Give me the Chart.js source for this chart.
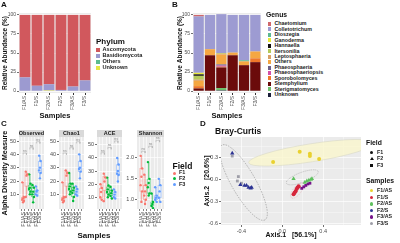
<!doctype html>
<html lang="en">
<head>
<meta charset="utf-8">
<title>Fungal composition and diversity</title>
<script src="https://cdn.jsdelivr.net/npm/chart.js"></script>
<style>
  html, body { margin: 0; padding: 0; background: #fff; }
  body { width: 400px; height: 243px; position: relative; overflow: hidden;
         font-family: 'Liberation Sans', Arial, sans-serif; color: #111; }
  canvas { position: absolute; }
  .lbl { position: absolute; white-space: nowrap; line-height: 1; font-weight: bold; }
  .sw { position: absolute; }
</style>
</head>
<body>
<canvas id="chartA" width="95" height="122" style="left:0;top:0"></canvas>
<canvas id="chartB" width="95" height="122" style="left:170px;top:0"></canvas>
<canvas id="chartObs" width="48" height="123" style="left:0;top:120px"></canvas>
<canvas id="chartChao" width="40" height="123" style="left:48px;top:120px"></canvas>
<canvas id="chartAce" width="38" height="123" style="left:88px;top:120px"></canvas>
<canvas id="chartShan" width="42" height="123" style="left:126px;top:120px"></canvas>
<canvas id="chartD" width="165" height="123" style="left:200px;top:120px"></canvas>
<script>
// ---- data ----
const sampleNames = ['F1/AS', 'F1/S', 'F2/AS', 'F2/S', 'F3/AS', 'F3/S'];
const abundanceTicks = [0, 25, 50, 75, 100];

// A: phylum relative abundance (%)
const phylumNames = ['Ascomycota', 'Basidiomycota', 'Others', 'Unknown'];
const phylumColors = ['#D1585D', '#9C9AD0', '#5DBB8F', '#E6E645'];
const ascomycota    = [82, 93, 91, 98.5, 94, 86];
const basidiomycota = [18, 7, 8, 1.5, 6, 14];
const phylumOthers  = [0, 0, 0, 0, 0, 0];
const phylumUnknown = [0, 0, 1, 0, 0, 0];

// B: genus relative abundance (%)
const genusNames = ['Chaetomium', 'Colletotrichum', 'Dioszegia', 'Ganoderma', 'Hannaella', 'Itersonilia',
  'Leptosphaeria', 'Others', 'Phaeosphaeria', 'Phaeosphaeriopsis', 'Sporobolomyces', 'Stemphylium',
  'Sterigmatomyces', 'Unknown'];
const genusColors = ['#D0686B', '#9D9BD2', '#5CB993', '#E8E83A', '#141010', '#B5C95A', '#D9A066',
  '#F5A742', '#6E6088', '#D44FA8', '#F0782A', '#6B0B0B', '#6EBF6B', '#1B1F3A'];
const chaetomium        = [2, 0, 0, 0, 0, 0];
const colletotrichum    = [74, 45, 51, 49.5, 59.5, 48];
const dioszegia         = [0, 0, 0, 0, 1.5, 0];
const ganoderma         = [2, 0, 0, 0, 0, 0];
const hannaella         = [2, 0, 0, 0, 0, 0];
const itersonilia       = [5, 0, 1, 0, 0, 0];
const leptosphaeria     = [1.5, 0, 1, 0, 0, 0];
const genusOthers       = [7, 8, 13, 3, 5, 9];
const phaeosphaeria     = [0, 0, 1.5, 0, 0, 0];
const phaeosphaeriopsis = [0, 0, 1.5, 0, 0, 0];
const sporobolomyces    = [3, 0, 1, 0.5, 0, 5];
const stemphylium       = [3.5, 47, 27, 47, 34, 38];
const sterigmatomyces   = [0, 0, 3, 0, 0, 0];
const genusUnknown      = [0, 0, 1, 0, 0, 0];

// C: alpha diversity, one list of values per sample
const fieldNames = ['F1', 'F2', 'F3'];
const fieldColors = ['#F8766D', '#00BA38', '#619CFF'];
const sampleField = [0, 0, 1, 1, 2, 2];
const pointJitter = [-0.22, 0.22, 0, -0.22, 0.22, 0, 0.12];
const diversityTicks = [10, 20, 30, 40, 50];
const shannonTicks = [1.0, 1.5, 2.0];
const observed = [[19, 8, 7, 6, 5, 4], [27, 25, 24, 8], [25, 18, 15, 14, 12, 10],
  [17, 15, 12, 10, 8, 4], [16, 13, 12, 10, 9], [39, 35, 30, 28, 26, 22]];
const chao1 = [[19, 8, 7, 6, 5, 4], [28, 26, 24, 8], [26, 18, 16, 14, 12, 10],
  [18, 15, 13, 11, 8, 5], [16, 14, 12, 10, 9], [40, 35, 30, 29, 27, 22]];
const ace = [[20, 17, 14, 10, 8], [28, 25, 22, 7], [25, 19, 16, 14, 12, 10],
  [18, 15, 13, 11, 9], [16, 14, 12, 10, 9], [40, 35, 30, 28, 27, 22]];
const shannon = [[2.05, 1.75, 1.55, 1.35, 1.2, 0.95], [1.6, 1.35, 1.2, 1.1, 1.0, 0.9],
  [1.9, 1.5, 1.4, 1.3, 1.15, 1.1], [1.15, 0.95, 0.9, 0.85, 0.8], [1.3, 1.1, 1.05, 1.0, 0.95],
  [1.5, 1.35, 1.2, 1.05, 0.95]];
// boxes: [low whisker, q1, median, q3, high whisker]
const observedBox = [[4, 5, 6.5, 8, 19], [8, 16, 24.5, 26, 27], [10, 12.5, 14.5, 17, 25],
  [4, 8, 11, 15, 17], [9, 9.5, 12, 13, 16], [22, 26, 29, 35, 39]];
const chao1Box = [[4, 5, 6.5, 8, 19], [8, 16, 25, 27, 28], [10, 12.5, 15, 18, 26],
  [5, 8, 12, 15, 18], [9, 10, 12, 14, 16], [22, 27, 29.5, 35, 40]];
const aceBox = [[8, 9, 14, 17, 20], [7, 15, 23.5, 26, 28], [10, 12.5, 15, 18, 25],
  [9, 11, 13, 15, 18], [9, 10, 12, 14, 16], [22, 27, 29, 35, 40]];
const shannonBox = [[0.95, 1.2, 1.45, 1.75, 2.05], [0.9, 1.0, 1.15, 1.35, 1.6], [1.1, 1.15, 1.35, 1.5, 1.9],
  [0.8, 0.85, 0.9, 0.95, 1.15], [0.95, 1.0, 1.05, 1.1, 1.3], [0.95, 1.05, 1.2, 1.35, 1.5]];
// significance bracket heights (F1, F2, F3 pairs)
const observedBrackets = [41, 45, 49.5];
const chao1Brackets = [41, 45, 49.5];
const aceBrackets = [44, 48, 53];
const shannonBrackets = [2.16, 2.28, 2.42];

// D: PCoA Bray-Curtis, [Axis.1, Axis.2]
const pcoaF1AS = [[-0.09, 0.24], [0.17, 0.38], [0.27, 0.35], [0.27, 0.32], [0.36, 0.28]];
const pcoaF1S  = [[0.11, -0.2], [0.12, -0.18], [0.13, -0.16], [0.14, -0.13], [0.15, -0.11], [0.16, -0.09]];
const pcoaF2AS = [[0.11, 0.01], [0.22, -0.04], [0.24, -0.02], [0.26, -0.01], [0.28, 0.0], [0.29, 0.01]];
const pcoaF2S  = [[-0.49, 0.36], [-0.41, -0.07], [-0.37, -0.08], [-0.35, -0.08], [-0.33, -0.11], [-0.31, -0.12], [-0.30, -0.11]];
const pcoaF3AS = [[0.19, -0.12], [0.21, -0.1], [0.23, -0.08], [0.25, -0.06], [0.27, -0.05]];
const pcoaF3S  = [[-0.49, 0.32], [-0.43, 0.04], [-0.44, -0.02], [-0.40, -0.05]];
const pcoaColors = ['#E9D12F', '#D6263B', '#5FC15F', '#2C3393', '#76148A', '#9E9EA8'];
const pcoaShapes = ['circle', 'circle', 'triangle', 'triangle', 'rect', 'rect'];
const axis1Ticks = [-0.4, 0.0, 0.4];
const axis1Minor = [-0.2, 0.2, 0.6];
const axis2Ticks = [-0.6, -0.3, 0.0, 0.3];
const axis2Minor = [-0.45, -0.15, 0.15, 0.45];
// ellipse major-axis ends [x, y] in axis units
const ellipseF2S3S = [[-0.59, 0.47], [-0.17, -0.55]];
const ellipseF1AS  = [[-0.33, 0.23], [0.9, 0.5]];
const ellipseF2AS  = [[0.04, -0.05], [0.35, 0.11]];
const ellipseF1S   = [[0.09, -0.25], [0.2, -0.05]];

// ---- setup ----
Chart.defaults.font.family = "'Liberation Sans', Arial, sans-serif";
Chart.defaults.color = '#4d4d4d';
Chart.defaults.animation = false;
Chart.defaults.responsive = false;
Chart.defaults.plugins.legend.display = false;
Chart.defaults.plugins.tooltip.enabled = false;

function withAlpha(hex, a) {
  const n = parseInt(hex.slice(1), 16);
  return `rgba(${n >> 16},${(n >> 8) & 255},${n & 255},${a})`;
}

const panelBg = {
  id: 'panelBg',
  beforeDraw(chart) {
    const a = chart.chartArea, ctx = chart.ctx;
    ctx.save();
    ctx.fillStyle = '#ebebeb';
    ctx.fillRect(a.left, a.top, a.right - a.left, a.bottom - a.top);
    ctx.restore();
  }
};

const facetStrip = {
  id: 'facetStrip',
  afterDraw(chart, args, opts) {
    if (!opts.text) return;
    const a = chart.chartArea, ctx = chart.ctx;
    ctx.save();
    ctx.fillStyle = '#d9d9d9';
    ctx.fillRect(a.left, a.top - 7, a.right - a.left, 7);
    ctx.fillStyle = '#1a1a1a';
    ctx.font = "bold 5.5px 'Liberation Sans', Arial, sans-serif";
    ctx.textAlign = 'center';
    ctx.textBaseline = 'middle';
    ctx.fillText(opts.text, (a.left + a.right) / 2, a.top - 3.3);
    ctx.restore();
  }
};

// "ns" over each bracket
const bracketText = {
  id: 'bracketText',
  afterDatasetsDraw(chart, args, opts) {
    if (!opts.heights) return;
    const ctx = chart.ctx, x = chart.scales.x, y = chart.scales.y;
    ctx.save();
    ctx.fillStyle = '#8c8c8c';
    ctx.font = "3.5px 'Liberation Sans', Arial, sans-serif";
    ctx.textAlign = 'center';
    ctx.textBaseline = 'bottom';
    opts.heights.forEach((h, j) => {
      ctx.fillText('ns', x.getPixelForValue(2 * j + 0.5), y.getPixelForValue(h) - 0.3);
    });
    ctx.restore();
  }
};

// group ellipses for panel D (kept out of plugin options so Chart.js does not resolve them)
const pcoaEllipses = [
  { ends: ellipseF1AS, half: 9, fill: 'rgba(250,246,205,0.8)', stroke: '#d9d9c6', dash: [] },
  { ends: ellipseF2S3S, half: 12, fill: null, stroke: '#8a8a8a', dash: [1.5, 1.2] },
  { ends: ellipseF2AS, half: 5, fill: null, stroke: '#9a9a9a', dash: [1, 1] },
  { ends: ellipseF1S, half: 4, fill: null, stroke: 'rgba(214,38,59,0.35)', dash: [1, 1] }
];
const ellipses = {
  id: 'ellipses',
  beforeDatasetsDraw(chart) {
    const ctx = chart.ctx, a = chart.chartArea, sx = chart.scales.x, sy = chart.scales.y;
    ctx.save();
    ctx.beginPath();
    ctx.rect(a.left, a.top, a.right - a.left, a.bottom - a.top);
    ctx.clip();
    pcoaEllipses.forEach(e => {
      const x1 = sx.getPixelForValue(e.ends[0][0]), y1 = sy.getPixelForValue(e.ends[0][1]);
      const x2 = sx.getPixelForValue(e.ends[1][0]), y2 = sy.getPixelForValue(e.ends[1][1]);
      ctx.beginPath();
      ctx.ellipse((x1 + x2) / 2, (y1 + y2) / 2, Math.hypot(x2 - x1, y2 - y1) / 2, e.half,
        Math.atan2(y2 - y1, x2 - x1), 0, Math.PI * 2);
      if (e.fill) { ctx.fillStyle = e.fill; ctx.fill(); }
      ctx.setLineDash(e.dash);
      ctx.lineWidth = 0.6;
      ctx.strokeStyle = e.stroke;
      ctx.stroke();
    });
    ctx.restore();
  }
};

function yScale(o) {
  return {
    min: o.min, max: o.max, stacked: !!o.stacked,
    border: { display: false },
    grid: { color: '#ffffff', lineWidth: 0.7, tickLength: 2, tickColor: '#333333' },
    ticks: { padding: 1, font: { size: o.font || 5 }, color: '#4d4d4d', callback: o.fmt || (v => v) },
    afterBuildTicks: s => { s.ticks = o.ticks.map(v => ({ value: v })); },
    afterFit: s => { s.width = o.width; },
    title: o.title ? { display: true, text: o.title, color: '#111',
      font: { size: o.titleSize || 6.5, weight: 'bold' }, padding: { top: o.titlePad || 1, bottom: 0 } }
      : { display: false }
  };
}

function sampleAxis() {
  return {
    stacked: true,
    border: { display: false },
    grid: { drawOnChartArea: false, offset: false, tickLength: 2, tickColor: '#333333' },
    ticks: { font: { size: 5 }, color: '#4d4d4d', minRotation: 90, maxRotation: 90, autoSkip: false, padding: 1 },
    afterFit: s => { s.height = 29; },
    title: { display: true, text: 'Samples', color: '#111', font: { size: 7.5, weight: 'bold' }, padding: { top: 0, bottom: 2 } }
  };
}

function stackedBars(id, names, colors, series, yTitlePad, yWidth) {
  const datasets = names.map((n, i) => ({
    label: n, data: series[i], backgroundColor: colors[i], borderWidth: 0,
    barPercentage: 0.9, categoryPercentage: 1
  })).reverse();
  new Chart(document.getElementById(id), {
    type: 'bar',
    data: { labels: sampleNames, datasets: datasets },
    options: {
      layout: { padding: { top: 13, right: 4, left: 0, bottom: 0 } },
      scales: {
        x: sampleAxis(),
        y: yScale({ min: -2.5, max: 102.5, ticks: abundanceTicks, width: yWidth, stacked: true,
          title: 'Relative Abundance (%)', titlePad: yTitlePad })
      }
    },
    plugins: [panelBg]
  });
}

stackedBars('chartA', phylumNames, phylumColors,
  [ascomycota, basidiomycota, phylumOthers, phylumUnknown], 1, 19);
stackedBars('chartB', genusNames, genusColors,
  [chaetomium, colletotrichum, dioszegia, ganoderma, hannaella, itersonilia, leptosphaeria, genusOthers,
   phaeosphaeria, phaeosphaeriopsis, sporobolomyces, stemphylium, sterigmatomyces, genusUnknown], 6.5, 23);

function facetChart(id, f) {
  const boxColor = i => withAlpha(fieldColors[sampleField[i]], 0.55);
  const datasets = [];
  f.values.forEach((vals, i) => {
    datasets.push({ type: 'scatter', order: 0,
      data: vals.map((v, k) => ({ x: i + pointJitter[k], y: v })),
      backgroundColor: fieldColors[sampleField[i]], borderWidth: 0, pointRadius: 1.2 });
  });
  datasets.push({ type: 'bar', order: 1, grouped: false, barThickness: 3.6, borderSkipped: false,
    data: f.box.map((b, i) => ({ x: i, y: [b[1], b[3]] })),
    backgroundColor: 'rgba(255,255,255,0.3)', borderColor: f.box.map((b, i) => boxColor(i)), borderWidth: 0.6 });
  datasets.push({ type: 'bar', order: 2, grouped: false, barThickness: 0.6, borderWidth: 0,
    data: f.box.map((b, i) => ({ x: i, y: [b[0], b[1]] })), backgroundColor: f.box.map((b, i) => boxColor(i)) });
  datasets.push({ type: 'bar', order: 2, grouped: false, barThickness: 0.6, borderWidth: 0,
    data: f.box.map((b, i) => ({ x: i, y: [b[3], b[4]] })), backgroundColor: f.box.map((b, i) => boxColor(i)) });
  const med = [];
  f.box.forEach((b, i) => { med.push({ x: i - 0.3, y: b[2] }, { x: i + 0.3, y: b[2] }, { x: i, y: null }); });
  datasets.push({ type: 'line', order: 1, data: med, borderWidth: 0.6, pointRadius: 0, spanGaps: false,
    borderColor: '#999', segment: { borderColor: c => boxColor(Math.floor(c.p0DataIndex / 3)) } });
  const tip = (f.max - f.min) * 0.025;
  const br = [];
  f.brackets.forEach((h, j) => {
    br.push({ x: 2 * j, y: h - tip }, { x: 2 * j, y: h }, { x: 2 * j + 1, y: h }, { x: 2 * j + 1, y: h - tip }, { x: 2 * j, y: null });
  });
  datasets.push({ type: 'line', order: 3, data: br, borderColor: '#b3b3b3', borderWidth: 0.6, pointRadius: 0, spanGaps: false });

  new Chart(document.getElementById(id), {
    type: 'scatter',
    data: { datasets: datasets },
    options: {
      layout: { padding: { top: 17, right: 1, left: 0, bottom: 0 } },
      plugins: { facetStrip: { text: f.name }, bracketText: { heights: f.brackets } },
      scales: {
        x: {
          type: 'linear', min: -0.6, max: 5.6,
          border: { display: false },
          grid: { color: '#ffffff', lineWidth: 0.6, tickLength: 2, tickColor: '#333333' },
          ticks: { font: { size: 5.3 }, color: '#4d4d4d', minRotation: 90, maxRotation: 90, autoSkip: false,
            padding: 1, callback: v => sampleNames[v] },
          afterBuildTicks: s => { s.ticks = sampleNames.map((n, i) => ({ value: i })); },
          afterFit: s => { s.height = 34; }
        },
        y: yScale({ min: f.min, max: f.max, ticks: f.ticks, width: f.yWidth, font: 5.5, fmt: f.fmt,
          title: f.title, titleSize: 7.3, titlePad: 1 })
      }
    },
    plugins: [panelBg, facetStrip, bracketText]
  });
}

facetChart('chartObs', { name: 'Observed', values: observed, box: observedBox, brackets: observedBrackets,
  min: -1, max: 53, ticks: diversityTicks, yWidth: 19, title: 'Alpha Diversity Measure' });
facetChart('chartChao', { name: 'Chao1', values: chao1, box: chao1Box, brackets: chao1Brackets,
  min: -1, max: 53, ticks: diversityTicks, yWidth: 11 });
facetChart('chartAce', { name: 'ACE', values: ace, box: aceBox, brackets: aceBrackets,
  min: 1, max: 56, ticks: diversityTicks, yWidth: 9 });
facetChart('chartShan', { name: 'Shannon', values: shannon, box: shannonBox, brackets: shannonBrackets,
  min: 0.78, max: 2.5, ticks: shannonTicks, yWidth: 11, fmt: v => v.toFixed(1) });

// D
const pcoaSets = [pcoaF1AS, pcoaF1S, pcoaF2AS, pcoaF2S, pcoaF3AS, pcoaF3S];
function pcoaAxis(major, minor, min, max, title, fit, titlePad) {
  return {
    type: 'linear', min: min, max: max,
    border: { display: false },
    grid: {
      color: '#ffffff', tickLength: 2,
      lineWidth: c => major.includes(c.tick.value) ? 0.7 : 0.35,
      tickColor: c => major.includes(c.tick.value) ? '#333333' : 'rgba(0,0,0,0)'
    },
    ticks: { font: { size: 5.5 }, color: '#4d4d4d', padding: 1, autoSkip: false, maxRotation: 0,
      callback: v => major.includes(v) ? v.toFixed(1) : '' },
    afterBuildTicks: s => { s.ticks = major.concat(minor).sort((a, b) => a - b).map(v => ({ value: v })); },
    afterFit: fit,
    title: { display: true, text: title, color: '#111', font: { size: 7, weight: 'bold' }, padding: titlePad }
  };
}
new Chart(document.getElementById('chartD'), {
  type: 'scatter',
  data: {
    datasets: pcoaSets.map((pts, i) => ({
      label: sampleNames[i],
      data: pts.map(p => ({ x: p[0], y: p[1] })),
      pointStyle: pcoaShapes[i],
      pointRadius: pcoaShapes[i] === 'triangle' ? 2.5 : 2,
      backgroundColor: pcoaColors[i], borderColor: pcoaColors[i], borderWidth: 0
    }))
  },
  options: {
    layout: { padding: { top: 17, right: 2, left: 0, bottom: 0 } },
    scales: {
      x: pcoaAxis(axis1Ticks, axis1Minor, -0.6, 0.77, 'Axis.1   [56.1%]', s => { s.height = 18; }, { top: 0, bottom: 4 }),
      y: pcoaAxis(axis2Ticks, axis2Minor, -0.62, 0.58, 'Axis.2   [20.6%]', s => { s.width = 21; }, { top: 3, bottom: 0 })
    }
  },
  plugins: [panelBg, ellipses]
});

// ---- html text: panel letters, titles, legends ----
function text(t, left, centerY, size, extra) {
  const d = document.createElement('div');
  d.className = 'lbl';
  d.textContent = t;
  d.style.left = left + 'px';
  d.style.top = (centerY - size / 2) + 'px';
  d.style.fontSize = size + 'px';
  if (extra) d.style.cssText += extra;
  document.body.appendChild(d);
}
function swatch(left, centerY, w, h, color, extra) {
  const d = document.createElement('div');
  d.className = 'sw';
  d.style.cssText = `left:${left}px;top:${centerY - h / 2}px;width:${w}px;height:${h}px;background:${color};` + (extra || '');
  document.body.appendChild(d);
}

text('A', 1, 4.5, 8);
text('B', 172, 4.5, 8);
text('C', 1, 124, 8);
text('D', 200, 124, 8);

text('Phylum', 96, 41.7, 8);
phylumNames.forEach((n, i) => {
  swatch(96, 50 + i * 5.9, 4, 4, phylumColors[i]);
  text(n, 102.5, 50 + i * 5.9, 5.6, 'color:#222');
});

text('Genus', 266, 15, 6.8);
genusNames.forEach((n, i) => {
  swatch(267.5, 24 + i * 5.44, 3.5, 4, genusColors[i]);
  text(n, 274.5, 24 + i * 5.44, 5.3, 'color:#222');
});

text('Samples', 77.5, 236.3, 8);
text('Field', 172.5, 166, 8.5);
fieldNames.forEach((n, i) => {
  swatch(173, 173 + i * 5.65, 3, 3, fieldColors[i], 'border-radius:50%;');
  text(n, 179, 173 + i * 5.65, 5.5, 'color:#222');
});

text('Bray-Curtis', 215, 131.3, 8.5);
text('Field', 366, 143.3, 6.8);
['F1', 'F2', 'F3'].forEach((n, i) => {
  const cy = 152.3 + i * 6.7;
  if (i === 0) swatch(370, cy, 3.4, 3.4, '#111', 'border-radius:50%;');
  if (i === 1) swatch(369.6, cy, 0, 0, 'transparent',
    'border-left:2px solid transparent;border-right:2px solid transparent;border-bottom:3.5px solid #111;top:' + (cy - 1.8) + 'px;');
  if (i === 2) swatch(370, cy, 3.2, 3.2, '#111');
  text(n, 377, cy, 5.3, 'color:#222');
});
text('Samples', 366, 181.7, 6.8);
sampleNames.forEach((n, i) => {
  const cy = 190.7 + i * 6.6;
  swatch(370, cy, 3.4, 3.4, pcoaColors[i], 'border-radius:50%;');
  text(n, 377, cy, 5.3, 'color:#222');
});
</script>
</body>
</html>
